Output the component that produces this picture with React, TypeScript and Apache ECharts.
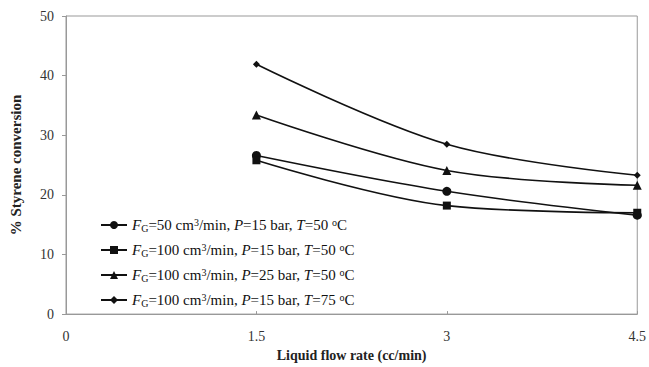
import React, { useEffect, useRef } from "react";
import * as echarts from "echarts";

const xValues = [1.5, 3, 4.5];
const seriesNames = ["s1", "s2", "s3", "s4"];
const seriesLabels = [
  "{i|F}{sub|G}=50 cm{sup|3}/min, {i|P}=15 bar, {i|T}=50 {sup|o}C",
  "{i|F}{sub|G}=100 cm{sup|3}/min, {i|P}=15 bar, {i|T}=50 {sup|o}C",
  "{i|F}{sub|G}=100 cm{sup|3}/min, {i|P}=25 bar, {i|T}=50 {sup|o}C",
  "{i|F}{sub|G}=100 cm{sup|3}/min, {i|P}=15 bar, {i|T}=75 {sup|o}C",
];
const s1 = [26.6, 20.6, 16.6];
const s2 = [25.8, 18.2, 17.0];
const s3 = [33.4, 24.1, 21.6];
const s4 = [41.9, 28.5, 23.3];
const symbols = ["circle", "rect", "triangle", "diamond"];
const symbolSizes = [9, 8, 9, 7];
const yTicks = { min: 0, max: 50, interval: 10 };
const xTicks = { min: 0, max: 4.5, interval: 1.5 };

const FONT = "'Liberation Serif', 'Times New Roman', serif";

export default function App() {
  const ref = useRef<HTMLDivElement>(null);
  useEffect(() => {
    if (!ref.current) return;
    const chart = echarts.init(ref.current, undefined, { renderer: "svg" });
    const all = [s1, s2, s3, s4];
    chart.setOption({
      animation: false,
      backgroundColor: "#fff",
      grid: {
        left: 66,
        right: 11,
        top: 16,
        bottom: 52,
        show: true,
        borderColor: "#999",
        borderWidth: 1,
      },
      legend: {
        orient: "vertical",
        left: 95,
        top: 212,
        itemWidth: 26,
        itemHeight: 10,
        itemGap: 9,
        data: seriesNames,
        formatter: (name: string) => seriesLabels[seriesNames.indexOf(name)],
        textStyle: {
          fontFamily: FONT,
          fontSize: 15,
          color: "#111",
          lineHeight: 16,
          rich: {
            i: { fontFamily: FONT, fontSize: 15, fontStyle: "italic", color: "#111" },
            sub: { fontFamily: FONT, fontSize: 10, verticalAlign: "bottom", color: "#111", padding: [6, 0, 0, 0] },
            sup: { fontFamily: FONT, fontSize: 10, verticalAlign: "top", color: "#111", padding: [0, 0, 6, 0] },
          },
        },
      },
      xAxis: {
        type: "value",
        min: xTicks.min,
        max: xTicks.max,
        interval: xTicks.interval,
        name: "Liquid flow rate (cc/min)",
        nameLocation: "middle",
        nameGap: 32,
        nameTextStyle: { fontFamily: FONT, fontSize: 14, fontWeight: "bold", color: "#222" },
        axisLine: { lineStyle: { color: "#999" } },
        axisTick: { inside: true, length: 3, lineStyle: { color: "#999" } },
        axisLabel: { fontFamily: FONT, fontSize: 14, color: "#333", margin: 15 },
        splitLine: { show: false },
      },
      yAxis: {
        type: "value",
        min: yTicks.min,
        max: yTicks.max,
        interval: yTicks.interval,
        name: "% Styrene conversion",
        nameLocation: "middle",
        nameGap: 43,
        nameTextStyle: { fontFamily: FONT, fontSize: 15, fontWeight: "bold", color: "#222" },
        axisLine: { show: true, lineStyle: { color: "#999" } },
        axisTick: { show: true, length: 4, lineStyle: { color: "#999" } },
        axisLabel: { fontFamily: FONT, fontSize: 14, color: "#333", margin: 12 },
        splitLine: { show: false },
      },
      series: all.map((d, i) => ({
        name: seriesNames[i],
        type: "line",
        smooth: 0.35,
        data: d.map((v, j) => [xValues[j], v]),
        symbol: symbols[i],
        symbolSize: symbolSizes[i],
        clip: false,
        lineStyle: { color: "#111", width: 1.6 },
        itemStyle: { color: "#111" },
      })),
    });
    return () => chart.dispose();
  }, []);
  return (
    <div
      ref={ref}
      style={{ position: "fixed", left: 0, top: 0, width: 649, height: 367 }}
    />
  );
}
